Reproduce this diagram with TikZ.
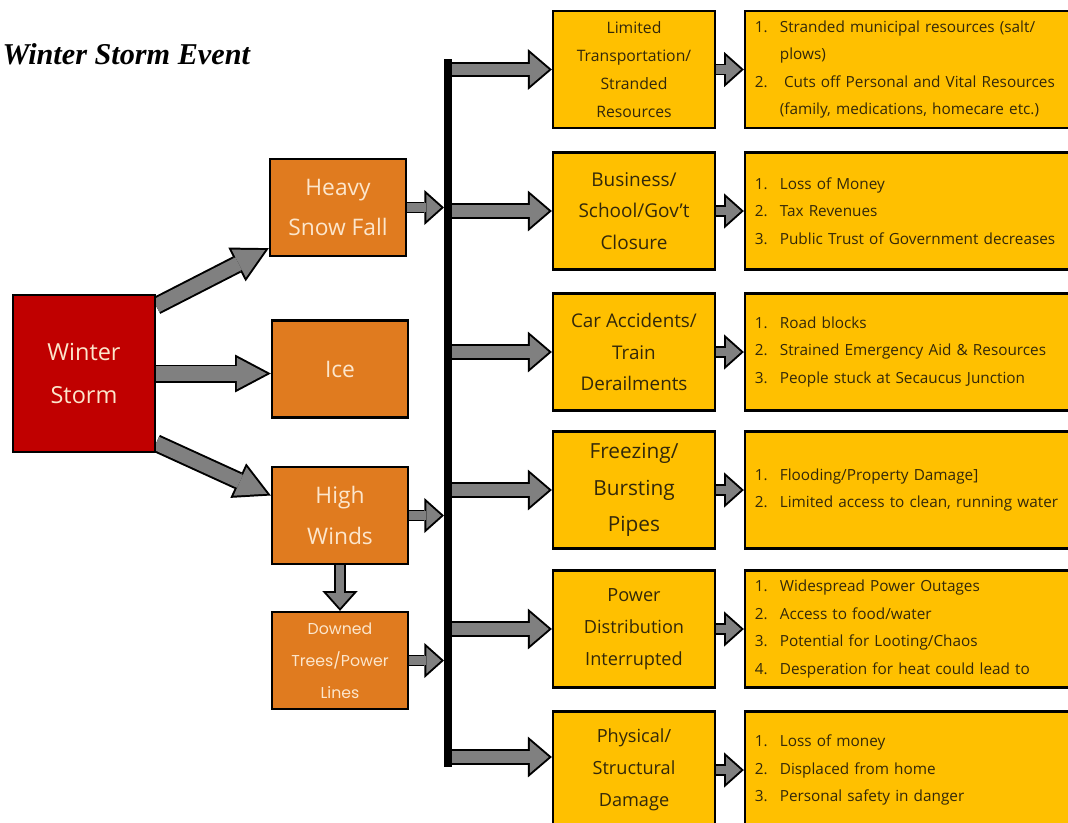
\documentclass[tikz,border=0pt]{standalone}
\usepackage{fontspec}
\setmainfont{Open Sans}
\newfontfamily\titleFont{Liberation Serif}
\newfontfamily\lineFont{Poppins}
\usetikzlibrary{arrows.meta,positioning,calc,backgrounds}
\definecolor{stormRed}{HTML}{C00000}
\definecolor{snowOrange}{HTML}{E07B1F}
\definecolor{effYellow}{HTML}{FFC000}
\definecolor{arrGray}{HTML}{808080}
\definecolor{lightTxt}{HTML}{FCE6CC}
\definecolor{darkTxt}{HTML}{33280A}
\tikzstyle{bRed}=[draw=black, line width=1.6pt, fill=stormRed, text=lightTxt, minimum width=3.55cm, minimum height=3.925cm, align=center, inner sep=0pt, font=\fontsize{16.7}{30.5}\selectfont]
\tikzstyle{bOrange}=[draw=black, line width=1.6pt, fill=snowOrange, text=lightTxt, minimum width=3.4cm, minimum height=2.425cm, align=center, inner sep=0pt, font=\fontsize{16.2}{29}\selectfont]
\tikzstyle{bMid}=[draw=black, line width=1.6pt, fill=effYellow, text=darkTxt, minimum width=4.05cm, minimum height=2.925cm, align=center, inner sep=0pt, font=\fontsize{12.9}{22.7}\selectfont]
\tikzstyle{bRight}=[draw=black, line width=1.6pt, fill=effYellow, text=darkTxt, minimum height=2.925cm, align=left, text width=7.875cm, inner xsep=0.25cm, inner ysep=0pt, font=\fontsize{10.9}{19.5}\selectfont]
\tikzstyle{bar}=[draw=black, line width=5.7pt]
\tikzstyle{aBigBack}=[draw=black, line width=12.8pt, -{Triangle[width=27pt,length=25.5pt,line width=0pt]}]
\tikzstyle{aBigFront}=[draw=arrGray, line width=10pt, shorten >=3pt, -{Triangle[width=22.3pt,length=21.1pt,line width=0pt]}]
\tikzstyle{aMidBack}=[draw=black, line width=11.3pt, -{Triangle[width=29pt,length=17pt,line width=0pt]}]
\tikzstyle{aMidFront}=[draw=arrGray, line width=8.5pt, shorten >=2.2pt, -{Triangle[width=22.9pt,length=13.4pt,line width=0pt]}]
\tikzstyle{aSmallBack}=[draw=black, line width=8.5pt, -{Triangle[width=25pt,length=14pt,line width=0pt]}]
\tikzstyle{aSmallFront}=[draw=arrGray, line width=5.7pt, shorten >=2.1pt, -{Triangle[width=18.7pt,length=10.5pt,line width=0pt]}]
\newcommand{\nItem}[1]{\makebox[17.7pt][l]{#1}}

\begin{document}
\begin{tikzpicture}[x=0.025cm, y=-0.025cm]
                \useasboundingbox (0,0) rectangle (1068,823);

                \draw (255,64) node[anchor=base east, font=\titleFont\bfseries\itshape\fontsize{21.5}{26}\selectfont] (title) {Winter Storm Event};

                % causes
                \draw (84,373.5) node[bRed] (ws) {Winter\\Storm};
                \draw (338,207.5) node[bOrange] (hs) {Heavy\\Snow Fall};
                \draw (340,369) node[bOrange] (ice) {Ice};
                \draw (340,515.5) node[bOrange] (hw) {High\\Winds};
                \draw (340,660.5) node[bOrange, font=\lineFont\fontsize{11.2}{22.7}\selectfont] (dt) {Downed\\Trees/Power\\Lines};

                % effects
                \draw (634,69.5) node[bMid, font=\fontsize{11.2}{19.9}\selectfont] (m1) {Limited\\Transportation/\\Stranded\\Resources};
                \draw (634,211) node[bMid, font=\fontsize{13.5}{22.5}\selectfont] (m2) {Business/\\School/Gov't\\Closure};
                \draw (634,352) node[bMid, font=\fontsize{13.4}{22.7}\selectfont] (m3) {Car Accidents/\\Train\\Derailments};
                \draw (634,490) node[bMid, font=\fontsize{14.8}{26.2}\selectfont] (m4) {Freezing/\\Bursting\\Pipes};
                \draw (634,629) node[bMid] (m5) {Power\\Distribution\\Interrupted};
                \draw (634,770) node[bMid] (m6) {Physical/\\Structural\\Damage};

                % consequences
                \draw (912.5,69.5) node[bRight] (r1) {\nItem{1.}Stranded municipal resources (salt/\\\nItem{}plows)\\\nItem{2.}\hspace{3pt}Cuts off Personal and Vital Resources\\\nItem{}(family, medications, homecare etc.)};
                \draw (912.5,211) node[bRight] (r2) {\nItem{1.}Loss of Money\\\nItem{2.}Tax Revenues\\\nItem{3.}Public Trust of Government decreases};
                \draw (912.5,352) node[bRight] (r3) {\nItem{1.}Road blocks\\\nItem{2.}Strained Emergency Aid \& Resources\\\nItem{3.}People stuck at Secaucus Junction};
                \draw (912.5,490) node[bRight] (r4) {\nItem{1.}Flooding/Property Damage]\\\nItem{2.}Limited access to clean, running water};
                \draw (912.5,629) node[bRight] (r5) {\nItem{1.}Widespread Power Outages\\\nItem{2.}Access to food/water\\\nItem{3.}Potential for Looting/Chaos\\\nItem{4.}Desperation for heat could lead to};
                \draw (912.5,770) node[bRight] (r6) {\nItem{1.}Loss of money\\\nItem{2.}Displaced from home\\\nItem{3.}Personal safety in danger};

                \coordinate (barTop) at (448,59);
                \coordinate (barBot) at (448,767);
                \coordinate (i1) at (444,207.5);
                \coordinate (i2) at (444,515.5);
                \coordinate (i3) at (444,660.5);
                \coordinate (o1) at (450,69.5);
                \coordinate (o2) at (450,211);
                \coordinate (o3) at (450,352);
                \coordinate (o4) at (450,490);
                \coordinate (o5) at (450,629);
                \coordinate (o6) at (450,757);
                \coordinate (s1) at ($(ws.north east)+(0,12)$);
                \coordinate (t1) at ($(hs.south west)+(0,-9)$);
                \coordinate (s3) at ($(ws.south east)+(0,-10)$);
                \coordinate (t3) at ($(hw.west)+(0,-20)$);

                \begin{scope}[on background layer]
                \path
                    (s1) edge[aBigBack] (t1) (s1) edge[aBigFront] (t1)
                    (ws.east) edge[aBigBack] (ice.west |- ws.east) (ws.east) edge[aBigFront] (ice.west |- ws.east)
                    (s3) edge[aBigBack] (t3) (s3) edge[aBigFront] (t3)
                    (hw.south) edge[aSmallBack] (dt.north) (hw.south) edge[aSmallFront] (dt.north)
                    (hs.east) edge[aSmallBack] (i1) (hs.east) edge[aSmallFront] (i1)
                    (hw.east) edge[aSmallBack] (i2) (hw.east) edge[aSmallFront] (i2)
                    (dt.east) edge[aSmallBack] (i3) (dt.east) edge[aSmallFront] (i3)
                ;
                \path
                    (o1) edge[aMidBack] (m1.west) (o1) edge[aMidFront] (m1.west)
                    (o2) edge[aMidBack] (m2.west) (o2) edge[aMidFront] (m2.west)
                    (o3) edge[aMidBack] (m3.west) (o3) edge[aMidFront] (m3.west)
                    (o4) edge[aMidBack] (m4.west) (o4) edge[aMidFront] (m4.west)
                    (o5) edge[aMidBack] (m5.west) (o5) edge[aMidFront] (m5.west)
                    (o6) edge[aMidBack] (m6.west |- o6) (o6) edge[aMidFront] (m6.west |- o6)
                ;
                \path
                    (m1.east) edge[aSmallBack] (r1.west) (m1.east) edge[aSmallFront] (r1.west)
                    (m2.east) edge[aSmallBack] (r2.west) (m2.east) edge[aSmallFront] (r2.west)
                    (m3.east) edge[aSmallBack] (r3.west) (m3.east) edge[aSmallFront] (r3.west)
                    (m4.east) edge[aSmallBack] (r4.west) (m4.east) edge[aSmallFront] (r4.west)
                    (m5.east) edge[aSmallBack] (r5.west) (m5.east) edge[aSmallFront] (r5.west)
                    (m6.east) edge[aSmallBack] (r6.west) (m6.east) edge[aSmallFront] (r6.west)
                ;
                \draw[bar] (barTop) -- (barBot);
                \end{scope}

\end{tikzpicture}
\end{document}
